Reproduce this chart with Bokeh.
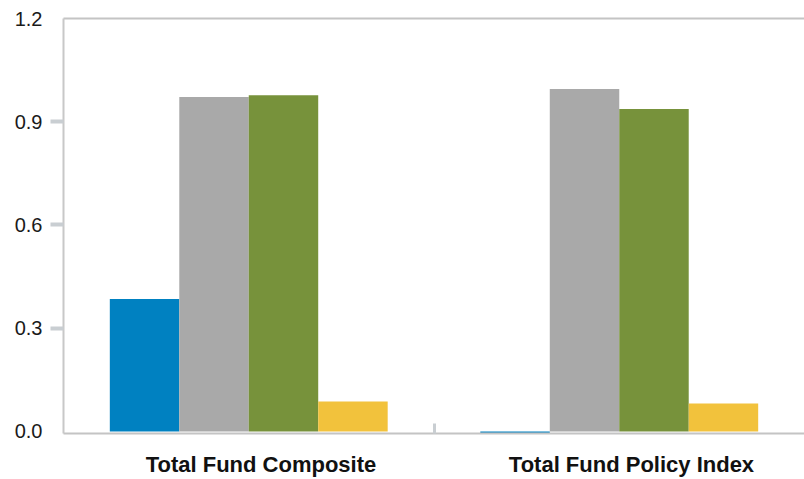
from bokeh.plotting import figure
from bokeh.models import FixedTicker, LinearAxis, Range1d
from bokeh.embed import file_html
from bokeh.resources import INLINE

categories = ["Total Fund Composite", "Total Fund Policy Index"]
series_blue = [0.385, -0.005]
series_gray = [0.972, 0.995]
series_green = [0.977, 0.937]
series_yellow = [0.087, 0.081]
y_ticks = [0.0, 0.3, 0.6, 0.9, 1.2]
y_tick_labels = ["0.0", "0.3", "0.6", "0.9", "1.2"]

series = [series_blue, series_gray, series_green, series_yellow]
colors = ["#0081C1", "#A9A9A9", "#77923B", "#F2C23C"]

n = len(categories)
p = figure(width=804, height=479, output_backend="svg", toolbar_location=None,
           x_range=Range1d(0, n), y_range=Range1d(-0.006, 1.2),
           min_border_left=63, min_border_right=0, min_border_top=18,
           min_border_bottom=46)
p.outline_line_color = None
p.grid.visible = False
p.background_fill_color = "white"

bar_w = 0.1875
offsets = [-1.5 * bar_w, -0.5 * bar_w, 0.5 * bar_w, 1.5 * bar_w]
for vals, col, off in zip(series, colors, offsets):
    xs = [i + 0.5 + off for i in range(n)]
    p.vbar(x=xs, top=vals, bottom=0, width=bar_w, fill_color=col, line_color=None)

# y axis
ya = p.yaxis[0]
ya.ticker = FixedTicker(ticks=y_ticks, minor_ticks=[t for t in y_ticks if 0 < t < max(y_ticks)])
ya.major_label_overrides = {t: l for t, l in zip(y_ticks, y_tick_labels)}
ya.major_tick_line_color = None
ya.major_tick_in = 0
ya.major_tick_out = 13
ya.minor_tick_in = 0
ya.minor_tick_out = 13
ya.minor_tick_line_color = "#C9CED2"
ya.minor_tick_line_width = 4
ya.axis_line_color = "#C8C8C8"
ya.axis_line_width = 2
ya.major_label_standoff = 8
ya.major_label_text_font = "Liberation Sans"
ya.major_label_text_font_size = "20px"
ya.major_label_text_color = "#1a1a1a"

# x axis
shift = 0.033
xt = [i + 0.5 + shift for i in range(n)]
xa = p.xaxis[0]
xa.ticker = FixedTicker(ticks=xt, minor_ticks=[float(i) for i in range(1, n)])
xa.major_label_overrides = {t: c for t, c in zip(xt, categories)}
xa.major_tick_line_color = None
xa.major_tick_in = 0
xa.major_tick_out = 0
xa.minor_tick_in = 10
xa.minor_tick_out = 0
xa.minor_tick_line_color = "#C9CED2"
xa.minor_tick_line_width = 3
xa.axis_line_color = "#C4C4C4"
xa.axis_line_width = 2
xa.major_label_standoff = 18
xa.major_label_text_font = "Liberation Sans"
xa.major_label_text_font_style = "bold"
xa.major_label_text_font_size = "22px"
xa.major_label_text_color = "#111111"

# top border
top = LinearAxis(ticker=FixedTicker(ticks=[]), axis_line_color="#C4C4C4", axis_line_width=2,
                 major_tick_line_color=None, minor_tick_line_color=None,
                 major_label_text_font_size="0px", major_label_standoff=0,
                 major_tick_out=0, minor_tick_out=0)
p.add_layout(top, "above")

open("out.html", "w").write(file_html(p, INLINE))
